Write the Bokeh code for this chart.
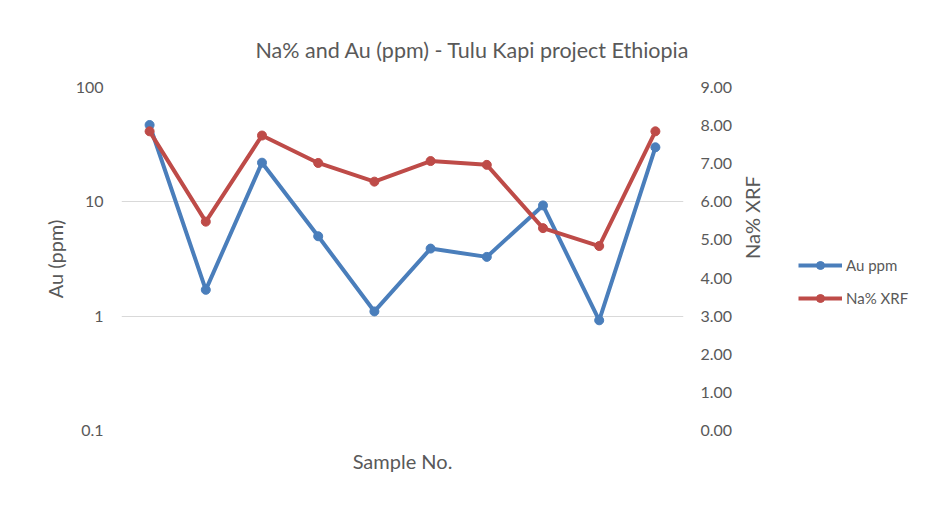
import math
from bokeh.plotting import figure
from bokeh.layouts import row
from bokeh.models import (Range1d, LinearAxis, LinearScale, FixedTicker, NumeralTickFormatter,
                          Legend, LegendItem)
from bokeh.embed import file_html
from bokeh.resources import INLINE

# ---- data ----
samples = [1, 2, 3, 4, 5, 6, 7, 8, 9, 10]
au_ppm = [47, 1.7, 22, 5.0, 1.1, 3.9, 3.3, 9.3, 0.92, 30]
na_xrf = [7.85, 5.48, 7.74, 7.02, 6.53, 7.07, 6.97, 5.31, 4.84, 7.85]
au_ticks = [0.1, 1, 10, 100]
na_ticks = [0, 1, 2, 3, 4, 5, 6, 7, 8, 9]

title_text = "Na% and Au (ppm)  - Tulu Kapi project Ethiopia"
x_label = "Sample No."
left_label = "Au (ppm)"
right_label = "Na% XRF"
series_names = ["Au ppm", "Na% XRF"]

FONT = "Lato"
TEXT = "#595959"
GRID = "#d9d9d9"
BLUE = "#4a7ebb"
RED = "#be4b48"

p = figure(frame_width=562, frame_height=343, y_axis_type="log",
           x_range=Range1d(0.5, 10.5), y_range=Range1d(0.1, 100),
           output_backend="svg", toolbar_location=None,
           min_border_left=121, min_border_right=115,
           min_border_top=87, min_border_bottom=62)
p.extra_y_ranges = {"na": Range1d(0, 9)}
p.extra_y_scales = {"na": LinearScale()}
p.outline_line_color = None
p.background_fill_color = "white"
p.border_fill_color = "white"

# title
p.title.text = title_text
p.title.align = "left"
p.title.offset = 134
p.title.standoff = 49
p.title.text_font = FONT
p.title.text_font_size = "21.5px"
p.title.text_font_style = "normal"
p.title.text_color = TEXT

# left log axis
ly = p.yaxis[0]
lt = FixedTicker(ticks=au_ticks, minor_ticks=[])
ly.ticker = lt
ly.formatter = NumeralTickFormatter(format="0.[0]")
ly.axis_label = left_label
p.ygrid.ticker = lt
p.ygrid.grid_line_color = GRID
p.ygrid.grid_line_width = 1
p.xgrid.visible = False

# bottom axis (no ticks)
bx = p.xaxis[0]
bx.ticker = FixedTicker(ticks=[])
bx.axis_label = x_label

# right axis
ry = LinearAxis(y_range_name="na", ticker=FixedTicker(ticks=na_ticks, minor_ticks=[]),
                formatter=NumeralTickFormatter(format="0.00"), axis_label=right_label)
ry.axis_label_orientation = math.pi / 2
p.add_layout(ry, "right")

for ax, st in ((ly, 18), (ry, 17), (bx, 0)):
    ax.axis_line_color = None
    ax.major_tick_line_color = None
    ax.minor_tick_line_color = None
    ax.major_tick_out = 0
    ax.major_tick_in = 0
    ax.major_label_standoff = st
    ax.major_label_text_font = FONT
    ax.major_label_text_font_size = "16px"
    ax.major_label_text_color = TEXT
    ax.axis_label_text_font = FONT
    ax.axis_label_text_font_size = "20px"
    ax.axis_label_text_font_style = "normal"
    ax.axis_label_text_color = TEXT
ly.axis_label_standoff = 6
ry.axis_label_standoff = 17
bx.axis_label_standoff = 18

# series
p.line(samples, au_ppm, line_color=BLUE, line_width=4, line_join="round")
p.scatter(samples, au_ppm, size=9, fill_color=BLUE, line_color=BLUE)
p.line(samples, na_xrf, line_color=RED, line_width=4, line_join="round", y_range_name="na")
p.scatter(samples, na_xrf, size=9, fill_color=RED, line_color=RED, y_range_name="na")

# legend panel to the right (hidden copies of the series serve as legend keys)
lg = figure(width=130, height=492, output_backend="svg", toolbar_location=None,
            x_range=Range1d(0.5, 10.5), y_range=Range1d(0, 100),
            x_axis_location=None, y_axis_location=None,
            min_border_left=0, min_border_right=0, min_border_top=0, min_border_bottom=0)
lg.outline_line_color = None
lg.grid.visible = False
lg.border_fill_color = "white"
kbl = lg.line(samples, au_ppm, line_color=BLUE, line_width=4, visible=False)
kbs = lg.scatter(samples, au_ppm, size=9, fill_color=BLUE, line_color=BLUE, visible=False)
krl = lg.line(samples, na_xrf, line_color=RED, line_width=4, visible=False)
krs = lg.scatter(samples, na_xrf, size=9, fill_color=RED, line_color=RED, visible=False)

legend = Legend(items=[LegendItem(label=series_names[0], renderers=[kbl, kbs]),
                       LegendItem(label=series_names[1], renderers=[krl, krs])],
                location=(0, 122), glyph_width=44, glyph_height=20, label_height=20,
                spacing=13, padding=0, margin=0, label_standoff=4,
                inactive_fill_alpha=0, click_policy="none",
                border_line_alpha=0, background_fill_alpha=0,
                label_text_font=FONT, label_text_color=TEXT, label_text_font_size="15px")
lg.add_layout(legend)

layout = row(p, lg)
open("out.html", "w").write(file_html(layout, INLINE))
